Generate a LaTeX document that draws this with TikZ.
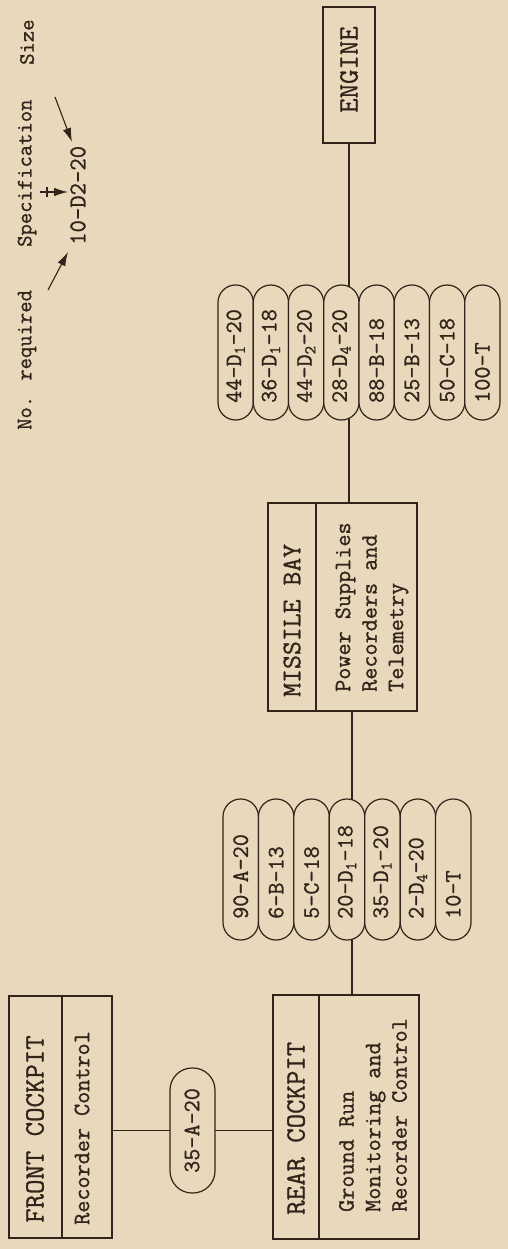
\documentclass[tikz,border=0pt]{standalone}
\usepackage{fontspec}
\newfontfamily\tw{Latin Modern Mono}[FakeBold=1]
\usetikzlibrary{arrows.meta,backgrounds}
\definecolor{paper}{RGB}{232,217,188}
\definecolor{ink}{RGB}{50,36,26}
\begin{document}
\begin{tikzpicture}[x=1pt,y=-1pt,
  box/.style={draw=ink,line width=1.3pt,fill=paper,inner sep=0pt,outer sep=0pt},
  pill/.style={draw=ink,line width=1.2pt,fill=paper,inner sep=0pt,outer sep=0pt,rounded corners=17.5pt},
  lbl/.style={rotate=90,anchor=west,inner sep=0pt,text=ink,font=\tw\fontsize{23.5}{26.5}\selectfont},
  caps/.style={lbl,font=\tw\fontsize{28}{30}\selectfont},
  note/.style={lbl,font=\tw\fontsize{22}{24}\selectfont},
  wire/.style={draw=ink,line width=1.2pt},
  pointer/.style={draw=ink,line width=1.1pt,-{Latex[length=14pt,width=8.5pt]}}
]
\useasboundingbox (0,0) rectangle (508,1249);
\begin{pgfonlayer}{background}
  \fill[paper] (0,0) rectangle (508,1249);
\end{pgfonlayer}

% legend
\node[note] (lsize) at (27,65) {Size};
\node[note] (lspec) at (27,247) {Specification};
\node[note] (lno) at (27,430) {No. required};
\node[lbl,font=\tw\fontsize{24}{26}\selectfont] (lex) at (78,245) {10-D2-20};
\draw[pointer] (48,290) -- (68,252);
\draw[pointer] (40,192) -- (68,192);
\draw[draw=ink,line width=1.1pt] (47,187) -- (47,197);
\draw[pointer] (55,97) -- (72,142);

% engine
\node[box,minimum width=52pt,minimum height=136pt] (engine) at (349,75) {};
\node[caps] (tengine) at (349,113) {ENGINE};

% first cable bundle
\foreach \t [count=\i from 0] in {44-D\textsubscript{1}-20,36-D\textsubscript{1}-18,44-D\textsubscript{2}-20,28-D\textsubscript{4}-20,88-B-18,25-B-13,50-C-18,100-T}{
  \node[pill,minimum width=35.25pt,minimum height=135pt] (a\i) at ({218+35.25*(\i+0.5)},352.5) {};
  \node[lbl] (ta\i) at ({218+35.25*(\i+0.5)},403) {\t};
}

% missile bay
\node[box,minimum width=149pt,minimum height=208pt] (missile) at (342.5,607) {};
\draw[draw=ink,line width=1.3pt] ([xshift=48pt]missile.north west) -- ([xshift=48pt]missile.south west);
\node[caps,font=\tw\fontsize{27}{30}\selectfont] (tmissile) at (292,697) {MISSILE BAY};
\node[lbl,align=left] (bmissile) at (372,692) {Power Supplies\\Recorders and\\Telemetry};

% second cable bundle
\foreach \t [count=\i from 0] in {90-A-20,6-B-13,5-C-18,20-D\textsubscript{1}-18,35-D\textsubscript{1}-20,2-D\textsubscript{4}-20,10-T}{
  \node[pill,minimum width=35.4pt,minimum height=141pt] (b\i) at ({223+35.43*(\i+0.5)},869.5) {};
  \node[lbl] (tb\i) at ({223+35.43*(\i+0.5)},919) {\t};
}

% rear cockpit
\node[box,minimum width=146pt,minimum height=244pt] (rear) at (346,1117) {};
\draw[draw=ink,line width=1.3pt] ([xshift=46pt]rear.north west) -- ([xshift=46pt]rear.south west);
\node[caps] (trear) at (296,1215) {REAR COCKPIT};
\node[lbl,align=left] (brear) at (373,1212) {Ground Run\\Monitoring and\\Recorder Control};

% front cockpit
\node[box,minimum width=103pt,minimum height=242pt] (front) at (60.5,1117) {};
\draw[draw=ink,line width=1.3pt] ([xshift=53pt]front.north west) -- ([xshift=53pt]front.south west);
\node[caps] (tfront) at (35,1223) {FRONT COCKPIT};
\node[lbl] (bfront) at (82,1225) {Recorder Control};

% cable between the cockpits
\node[pill,rounded corners=22pt,minimum width=45pt,minimum height=125pt] (mid) at (192.5,1130.5) {};
\node[lbl] (tmid) at (192,1173) {35-A-20};

% wiring
\begin{pgfonlayer}{background}
  \draw[wire] (engine.south) -- (engine.south |- missile.north);
  \draw[wire] ([xshift=9.5pt]missile.south) -- ([xshift=9.5pt]missile.south |- rear.north);
  \draw[wire] (front.east |- mid.center) -- (rear.west |- mid.center);
\end{pgfonlayer}
\end{tikzpicture}
\end{document}
